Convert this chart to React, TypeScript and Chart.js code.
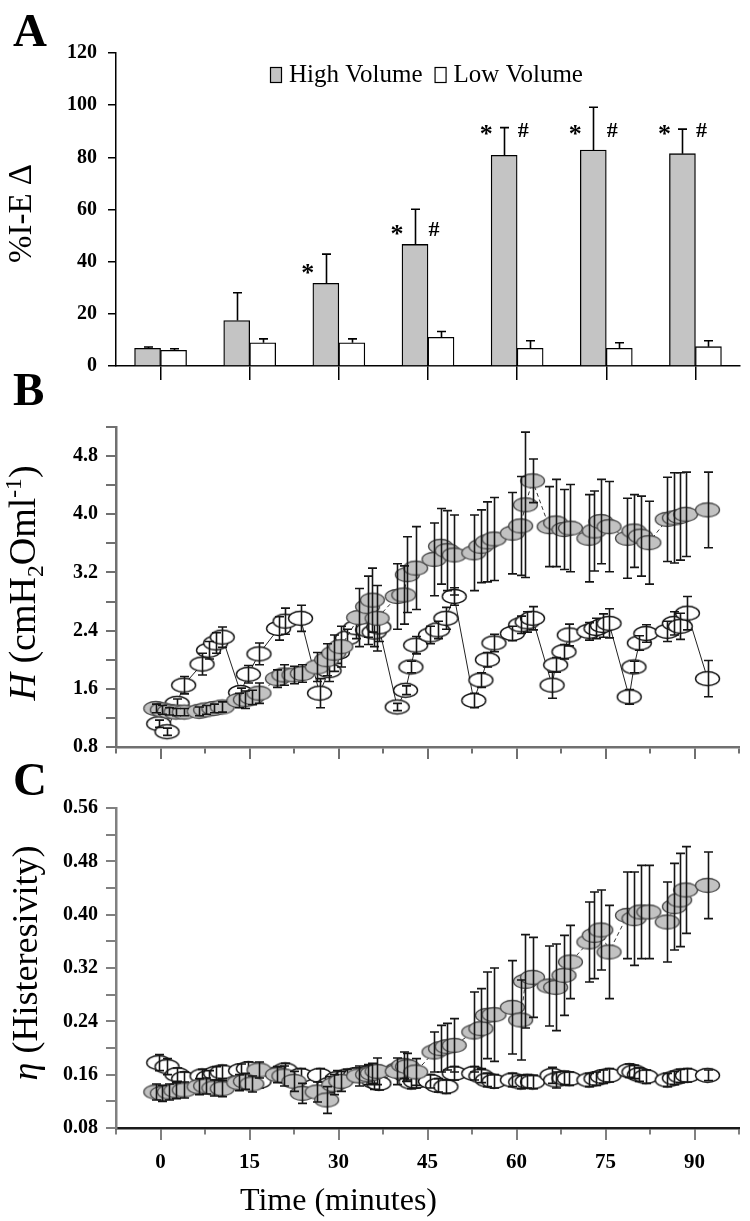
import React, { useEffect, useRef } from "react";
import { Chart, registerables } from "chart.js";

Chart.register(...registerables);

const SERIF = "'Liberation Serif', 'Times New Roman', serif";

// ---------- Panel A : %I-E delta (bars) ----------
const barTimes = [0, 15, 30, 45, 60, 75, 90];
const highVolumeIE = [6.8, 17.4, 31.7, 46.6, 80.8, 82.8, 81.4];
const highVolumeIEErr = [0.5, 10.7, 11.2, 13.5, 10.6, 16.4, 9.4];
const lowVolumeIE = [6.0, 8.9, 8.9, 11.0, 6.8, 6.8, 7.4];
const lowVolumeIEErr = [0.6, 1.5, 1.5, 2.2, 2.9, 2.1, 2.3];
const starLevel = [null, null, 37, 52, 90.5, 90.5, 90.5];
const hashLevel = [null, null, null, 52.5, 90.5, 90.5, 90.5];

// ---------- shared time axis ----------
const timeTicks = [-7.5, 0, 7.5, 15, 22.5, 30, 37.5, 45, 52.5, 60, 67.5, 75, 82.5, 90, 97.5];

// ---------- Panel B : H (elastance) ----------
const hvTime = [
  -0.8, 0.3, 1.5, 2.6, 4.0, 6.5, 7.6, 9.0, 10.4, 13.2, 14.3, 15.4, 16.6, 19.7, 20.8, 22.5, 23.9,
  26.4, 28.0, 29.2, 30.4, 33.4, 34.9, 35.7, 36.5, 39.9, 41.0, 41.6, 43.0, 46.1, 47.2, 48.3, 49.5,
  52.8, 54.0, 55.1, 56.2, 59.3, 60.7, 61.5, 62.7, 65.5, 66.6, 68.0, 69.1, 72.2, 73.1, 74.2, 75.6,
  78.7, 79.8, 80.9, 82.3, 85.4, 86.6, 87.5, 88.5, 92.2,
];
const hvH = [
  1.33, 1.31, 1.29, 1.28, 1.28, 1.29, 1.31, 1.33, 1.35, 1.44, 1.45, 1.48, 1.54, 1.74, 1.79, 1.79, 1.81,
  1.9, 2.0, 2.09, 2.18, 2.58, 2.73, 2.82, 2.57, 2.87, 2.89, 3.17, 3.26, 3.38, 3.56, 3.5, 3.44,
  3.47, 3.56, 3.62, 3.66, 3.74, 3.84, 4.13, 4.46, 3.83, 3.88, 3.79, 3.81, 3.67, 3.77, 3.9, 3.83,
  3.67, 3.77, 3.7, 3.61, 3.93, 3.95, 3.97, 4.0, 4.06,
];
const hvHErr = [
  0.06, 0.06, 0.05, 0.05, 0.05, 0.06, 0.06, 0.06, 0.07, 0.1, 0.12, 0.1, 0.14, 0.12, 0.14, 0.12, 0.12,
  0.2, 0.22, 0.25, 0.28, 0.4, 0.42, 0.44, 0.45, 0.45, 0.4, 0.52, 0.57, 0.5, 0.52, 0.55, 0.55,
  0.52, 0.5, 0.55, 0.57, 0.56, 0.68, 1.0, 0.3, 0.55, 0.6, 0.55, 0.6, 0.6, 0.55, 0.58, 0.62,
  0.55, 0.5, 0.55, 0.57, 0.58, 0.62, 0.6, 0.58, 0.52,
];
const lvTime = [
  -0.3, 1.1, 2.8, 3.9, 7.0, 8.1, 9.3, 10.4, 13.5, 14.8, 16.6, 19.9, 21.0, 23.6,
  26.8, 28.4, 29.8, 31.5, 32.9, 34.9, 36.0, 36.8, 39.9, 41.3, 42.2, 43.0, 45.5, 46.7, 48.1, 49.5,
  52.8, 54.0, 55.1, 56.2, 59.3, 60.7, 61.8, 62.7, 66.0, 66.6, 68.0, 68.9, 72.2, 73.4, 74.5, 75.6,
  79.0, 79.8, 80.7, 81.8, 85.4, 86.6, 87.6, 88.8, 92.2,
];
const lvH = [
  1.12, 1.01, 1.4, 1.65, 1.94, 2.13, 2.23, 2.31, 1.55, 1.8, 2.08, 2.43, 2.53, 2.57,
  1.54, 1.85, 2.1, 2.3, 2.44, 2.41, 2.38, 2.45, 1.35, 1.58, 1.9, 2.2, 2.34, 2.41, 2.57, 2.87,
  1.44, 1.72, 2.0, 2.23, 2.36, 2.48, 2.52, 2.57, 1.65, 1.93, 2.11, 2.34, 2.39, 2.43, 2.47, 2.5,
  1.49, 1.9, 2.23, 2.36, 2.39, 2.5, 2.46, 2.64, 1.74,
];
const lvHErr = [
  0.05, 0.05, 0.06, 0.12, 0.15, 0.12, 0.14, 0.14, 0.06, 0.12, 0.15, 0.16, 0.18, 0.18,
  0.2, 0.15, 0.15, 0.12, 0.15, 0.2, 0.2, 0.2, 0.05, 0.06, 0.08, 0.12, 0.12, 0.12, 0.15, 0.12,
  0.1, 0.1, 0.1, 0.12, 0.1, 0.12, 0.14, 0.16, 0.18, 0.1, 0.1, 0.15, 0.12, 0.14, 0.16, 0.2,
  0.1, 0.08, 0.1, 0.12, 0.14, 0.16, 0.18, 0.23, 0.25,
];

// ---------- Panel C : eta (hysteresivity) ----------
const hvEta = [
  0.134, 0.132, 0.134, 0.136, 0.137, 0.142, 0.143, 0.14, 0.139, 0.148, 0.15, 0.146, 0.167, 0.16, 0.158, 0.15, 0.132,
  0.134, 0.122, 0.145, 0.15, 0.158, 0.16, 0.162, 0.165, 0.165, 0.174, 0.172, 0.164, 0.194, 0.199, 0.202, 0.204,
  0.224, 0.229, 0.249, 0.25, 0.261, 0.242, 0.3, 0.306, 0.293, 0.291, 0.309, 0.329, 0.359, 0.369, 0.377, 0.344,
  0.399, 0.394, 0.404, 0.404, 0.389, 0.412, 0.422, 0.437, 0.444,
];
const hvEtaErr = [
  0.012, 0.012, 0.012, 0.012, 0.012, 0.012, 0.012, 0.012, 0.012, 0.012, 0.012, 0.012, 0.012, 0.012, 0.015, 0.015, 0.015,
  0.015, 0.02, 0.015, 0.015, 0.015, 0.015, 0.015, 0.02, 0.02, 0.02, 0.02, 0.02, 0.03, 0.035, 0.035, 0.04,
  0.06, 0.06, 0.065, 0.07, 0.07, 0.06, 0.07, 0.06, 0.06, 0.065, 0.06, 0.055, 0.06, 0.065, 0.06, 0.07,
  0.065, 0.07, 0.07, 0.07, 0.06, 0.065, 0.07, 0.065, 0.05,
];
const lvEta = [
  0.178, 0.172, 0.16, 0.154, 0.158, 0.156, 0.162, 0.164, 0.166, 0.169, 0.15, 0.162, 0.167, 0.159,
  0.159, 0.145, 0.154, 0.158, 0.16, 0.162, 0.15, 0.147, 0.167, 0.16, 0.149, 0.15, 0.15, 0.144, 0.142, 0.162,
  0.162, 0.158, 0.152, 0.15, 0.152, 0.149, 0.15, 0.149, 0.159, 0.152, 0.155, 0.154, 0.152, 0.154, 0.157, 0.159,
  0.166, 0.164, 0.16, 0.157, 0.152, 0.155, 0.158, 0.159, 0.159,
];
const lvEtaErr = [
  0.012, 0.012, 0.01, 0.01, 0.01, 0.01, 0.01, 0.01, 0.01, 0.01, 0.01, 0.01, 0.01, 0.01,
  0.01, 0.012, 0.012, 0.01, 0.01, 0.012, 0.012, 0.01, 0.01, 0.01, 0.01, 0.01, 0.01, 0.01, 0.01, 0.01,
  0.01, 0.01, 0.01, 0.01, 0.01, 0.01, 0.01, 0.01, 0.012, 0.012, 0.01, 0.01, 0.01, 0.01, 0.01, 0.01,
  0.01, 0.01, 0.01, 0.01, 0.01, 0.01, 0.01, 0.01, 0.008,
];

// ---------- helpers ----------
function makeEllipse(fill: string, stroke: string, w: number, h: number, lw: number) {
  const c = document.createElement("canvas");
  c.width = Math.ceil(w + lw * 2 + 2);
  c.height = Math.ceil(h + lw * 2 + 2);
  const g = c.getContext("2d")!;
  g.beginPath();
  g.ellipse(c.width / 2, c.height / 2, w / 2, h / 2, 0, 0, Math.PI * 2);
  g.fillStyle = fill;
  g.fill();
  g.lineWidth = lw;
  g.strokeStyle = stroke;
  g.stroke();
  return c;
}

const errorBarPlugin: any = {
  id: "errbars",
  afterDatasetDraw(chart: any, args: any) {
    const ds = chart.data.datasets[args.index];
    const errs: number[] | undefined = ds.errors;
    if (!errs) return;
    const ys = chart.scales.y;
    const ctx = chart.ctx;
    const cap = ds.errCap || 4.5;
    ctx.save();
    ctx.strokeStyle = ds.errColor || "#000";
    ctx.lineWidth = ds.errWidth || 1.6;
    args.meta.data.forEach((el: any, i: number) => {
      const raw = ds.data[i];
      const v = typeof raw === "number" ? raw : raw.y;
      const e = errs[i];
      if (e == null) return;
      const x = Math.round(el.x) + 0.5;
      const yTop = ys.getPixelForValue(v + e);
      const yBot = ds.errUpOnly ? ys.getPixelForValue(v) : ys.getPixelForValue(v - e);
      ctx.beginPath();
      ctx.moveTo(x, yBot);
      ctx.lineTo(x, yTop);
      ctx.moveTo(x - cap, yTop);
      ctx.lineTo(x + cap, yTop);
      if (!ds.errUpOnly) {
        ctx.moveTo(x - cap, yBot);
        ctx.lineTo(x + cap, yBot);
      }
      ctx.stroke();
    });
    ctx.restore();
  },
};

type Seg = { text: string; italic?: boolean; shift?: "sub" | "sup" };
function drawRotatedRich(ctx: CanvasRenderingContext2D, segs: Seg[], cx: number, cy: number, size: number) {
  ctx.save();
  ctx.translate(cx, cy);
  ctx.rotate(-Math.PI / 2);
  let total = 0;
  const parts = segs.map((s) => {
    const fs = s.shift ? size * 0.62 : size;
    const font = `${s.italic ? "italic " : ""}${fs}px ${SERIF}`;
    ctx.font = font;
    const w = ctx.measureText(s.text).width;
    total += w;
    return { ...s, font, w };
  });
  let x = -total / 2;
  ctx.fillStyle = "#000";
  ctx.textBaseline = "alphabetic";
  ctx.textAlign = "left";
  parts.forEach((p) => {
    ctx.font = p.font;
    const dy = p.shift === "sub" ? size * 0.2 : p.shift === "sup" ? -size * 0.38 : 0;
    ctx.fillText(p.text, x, dy);
    x += p.w;
  });
  ctx.restore();
}

function drawLetter(ctx: CanvasRenderingContext2D, letter: string, x: number, baseline: number) {
  ctx.save();
  ctx.font = `bold 47px ${SERIF}`;
  ctx.fillStyle = "#000";
  ctx.textAlign = "left";
  ctx.textBaseline = "alphabetic";
  ctx.fillText(letter, x, baseline);
  ctx.restore();
}

const tickFont = { family: SERIF, weight: "bold" as const, size: 20 };

function timeAxis(showLabels: boolean, color: string, height: number, axisColor: string) {
  return {
    type: "linear" as const,
    min: -7.5,
    max: 97.5,
    offset: false,
    afterBuildTicks: (s: any) => {
      s.ticks = timeTicks.map((v) => ({ value: v }));
    },
    afterFit: (s: any) => {
      s.height = height;
    },
    grid: {
      drawOnChartArea: false,
      offset: false,
      tickLength: 12,
      color: color,
      lineWidth: 2,
      tickBorderDash: (c: any) => (c.tick && c.tick.value % 15 === 0 ? [] : [5, 100]),
    },
    border: { color: axisColor, width: 2.5 },
    ticks: {
      display: showLabels,
      autoSkip: false,
      maxRotation: 0,
      padding: 10,
      color: "#000",
      font: { family: SERIF, weight: "bold" as const, size: 21 },
      callback: (v: any) => (v >= 0 && v % 15 === 0 ? String(v) : ""),
    },
  };
}

function valueAxis(min: number, max: number, step: number, labelEvery: number, digits: number, color: string) {
  return {
    type: "linear" as const,
    min,
    max,
    afterFit: (s: any) => {
      s.width = 116;
    },
    grid: { drawOnChartArea: false, tickLength: 10, color, lineWidth: 2 },
    border: { color, width: 2.5 },
    ticks: {
      stepSize: step,
      autoSkip: false,
      padding: 8,
      color: "#000",
      font: tickFont,
      callback: (v: any) => {
        const k = Math.round((v - min) / step);
        return k % labelEvery === 0 ? Number(v).toFixed(digits) : "";
      },
    },
  };
}

const grayEllipse = () => makeEllipse("#c2c2c2", "#4a4a4a", 24, 14, 1.3);
const whiteEllipse = () => makeEllipse("#ffffff", "#111111", 24, 14, 1.4);

function makeA(canvas: HTMLCanvasElement) {
  const deco: any = {
    id: "decoA",
    afterDraw(chart: any) {
      const ctx: CanvasRenderingContext2D = chart.ctx;
      drawLetter(ctx, "A", 13, 46);
      const ca = chart.chartArea;
      drawRotatedRich(ctx, [{ text: "%I-E Δ" }], 31, (ca.top + ca.bottom) / 2 + 4, 33);
      // legend
      ctx.save();
      ctx.font = `25px ${SERIF}`;
      ctx.textBaseline = "alphabetic";
      ctx.textAlign = "left";
      let x = 270;
      chart.data.datasets.forEach((ds: any) => {
        ctx.fillStyle = ds.backgroundColor;
        ctx.fillRect(x, 67, 11, 15);
        ctx.strokeStyle = "#000";
        ctx.lineWidth = 1.2;
        ctx.strokeRect(x + 0.5, 67.5, 11, 15);
        ctx.fillStyle = "#000";
        ctx.fillText(ds.label, x + 19, 82);
        x += 19 + ctx.measureText(ds.label).width + 12;
      });
      // significance marks
      const meta = chart.getDatasetMeta(0);
      const ys = chart.scales.y;
      ctx.font = `bold 26px ${SERIF}`;
      ctx.textAlign = "center";
      starLevel.forEach((lv, i) => {
        if (lv == null) return;
        const px = meta.data[i].x - 18;
        ctx.fillText("*", px, ys.getPixelForValue(lv) + 12);
      });
      ctx.font = `bold 22px ${SERIF}`;
      hashLevel.forEach((lv, i) => {
        if (lv == null) return;
        const px = meta.data[i].x + 19;
        ctx.fillText("#", px, ys.getPixelForValue(lv) + 7);
      });
      ctx.restore();
    },
  };
  return new Chart(canvas, {
    type: "bar",
    data: {
      datasets: [
        {
          label: "High Volume",
          data: barTimes.map((t, i) => ({ x: t, y: highVolumeIE[i] })),
          backgroundColor: "#c4c4c4",
          borderColor: "#000",
          borderWidth: 1.3,
          barThickness: 26,
          errors: highVolumeIEErr,
          errUpOnly: true,
        } as any,
        {
          label: "Low Volume",
          data: barTimes.map((t, i) => ({ x: t, y: lowVolumeIE[i] })),
          backgroundColor: "#ffffff",
          borderColor: "#000",
          borderWidth: 1.3,
          barThickness: 26,
          errors: lowVolumeIEErr,
          errUpOnly: true,
        } as any,
      ],
    },
    options: {
      animation: false,
      responsive: false,
      layout: { padding: { top: 53, right: 10, bottom: 0, left: 0 } },
      plugins: { legend: { display: false }, tooltip: { enabled: false } },
      scales: {
        x: {
          type: "linear",
          min: -7.5,
          max: 97.5,
          offset: false,
          afterBuildTicks: (s: any) => {
            s.ticks = barTimes.map((v) => ({ value: v }));
          },
          afterFit: (s: any) => {
            s.height = 24;
          },
          grid: { drawOnChartArea: false, offset: false, tickLength: 14, color: "#000", lineWidth: 1.5 },
          border: { color: "#000", width: 1.5 },
          ticks: { display: false },
        },
        y: {
          type: "linear",
          min: 0,
          max: 120,
          afterFit: (s: any) => {
            s.width = 116;
          },
          grid: { drawOnChartArea: false, tickLength: 8, color: "#000", lineWidth: 1.5 },
          border: { color: "#000", width: 1.5 },
          ticks: { stepSize: 20, padding: 11, color: "#000", font: tickFont },
        },
      },
    } as any,
    plugins: [errorBarPlugin, deco],
  });
}

function lineSets(
  hvT: number[], hv: number[], hvE: number[], lvT: number[], lv: number[], lvE: number[]
) {
  return [
    {
      label: "High Volume",
      data: hvT.map((t, i) => ({ x: t, y: hv[i] })),
      borderColor: "#333",
      borderWidth: 1,
      borderDash: [4, 3],
      pointStyle: grayEllipse(),
      pointRadius: 6,
      tension: 0,
      clip: false,
      errors: hvE,
      errColor: "#151515",
    } as any,
    {
      label: "Low Volume",
      data: lvT.map((t, i) => ({ x: t, y: lv[i] })),
      borderColor: "#222",
      borderWidth: 1,
      pointStyle: whiteEllipse(),
      pointRadius: 6,
      tension: 0,
      clip: false,
      errors: lvE,
      errColor: "#151515",
    } as any,
  ];
}

function makeB(canvas: HTMLCanvasElement) {
  const deco: any = {
    id: "decoB",
    afterDraw(chart: any) {
      const ctx: CanvasRenderingContext2D = chart.ctx;
      drawLetter(ctx, "B", 13, 405 - 370);
      const ca = chart.chartArea;
      drawRotatedRich(
        ctx,
        [
          { text: "H", italic: true },
          { text: " (cmH" },
          { text: "2", shift: "sub" },
          { text: "Oml" },
          { text: "-1", shift: "sup" },
          { text: ")" },
        ],
        35,
        (ca.top + ca.bottom) / 2 - 4,
        38
      );
    },
  };
  return new Chart(canvas, {
    type: "line",
    data: { datasets: lineSets(hvTime, hvH, hvHErr, lvTime, lvH, lvHErr) },
    options: {
      animation: false,
      responsive: false,
      layout: { padding: { top: 57, right: 11, bottom: 0, left: 0 } },
      plugins: { legend: { display: false }, tooltip: { enabled: false } },
      scales: {
        x: timeAxis(false, "#707070", 23, "#707070"),
        y: valueAxis(0.8, 5.2, 0.4, 2, 1, "#707070"),
      },
    } as any,
    plugins: [errorBarPlugin, deco],
  });
}

function makeC(canvas: HTMLCanvasElement) {
  const deco: any = {
    id: "decoC",
    afterDraw(chart: any) {
      const ctx: CanvasRenderingContext2D = chart.ctx;
      drawLetter(ctx, "C", 13, 795 - 760);
      const ca = chart.chartArea;
      drawRotatedRich(ctx, [{ text: "η", italic: true }, { text: " (Histeresivity)" }], 37, (ca.top + ca.bottom) / 2 - 5, 36);
      ctx.save();
      ctx.font = `32px ${SERIF}`;
      ctx.fillStyle = "#000";
      ctx.textAlign = "center";
      ctx.textBaseline = "alphabetic";
      ctx.fillText("Time (minutes)", chart.scales.x.getPixelForValue(30), 1210 - 760);
      ctx.restore();
    },
  };
  return new Chart(canvas, {
    type: "line",
    data: { datasets: lineSets(hvTime, hvEta, hvEtaErr, lvTime, lvEta, lvEtaErr) },
    options: {
      animation: false,
      responsive: false,
      layout: { padding: { top: 48, right: 11, bottom: 0, left: 0 } },
      plugins: { legend: { display: false }, tooltip: { enabled: false } },
      scales: {
        x: timeAxis(true, "#808080", 93, "#1a1a1a"),
        y: valueAxis(0.08, 0.56, 0.04, 2, 2, "#808080"),
      },
    } as any,
    plugins: [errorBarPlugin, deco],
  });
}

export default function App() {
  const refA = useRef<HTMLCanvasElement>(null);
  const refB = useRef<HTMLCanvasElement>(null);
  const refC = useRef<HTMLCanvasElement>(null);
  useEffect(() => {
    const charts = [makeA(refA.current!), makeB(refB.current!), makeC(refC.current!)];
    return () => charts.forEach((c) => c.destroy());
  }, []);
  return (
    <div style={{ position: "absolute", left: 0, top: 0, width: 750, height: 1221, background: "#fff", overflow: "hidden" }}>
      <canvas ref={refA} width={750} height={390} style={{ position: "absolute", left: 0, top: 0 }} />
      <canvas ref={refB} width={750} height={400} style={{ position: "absolute", left: 0, top: 370 }} />
      <canvas ref={refC} width={750} height={461} style={{ position: "absolute", left: 0, top: 760 }} />
    </div>
  );
}
